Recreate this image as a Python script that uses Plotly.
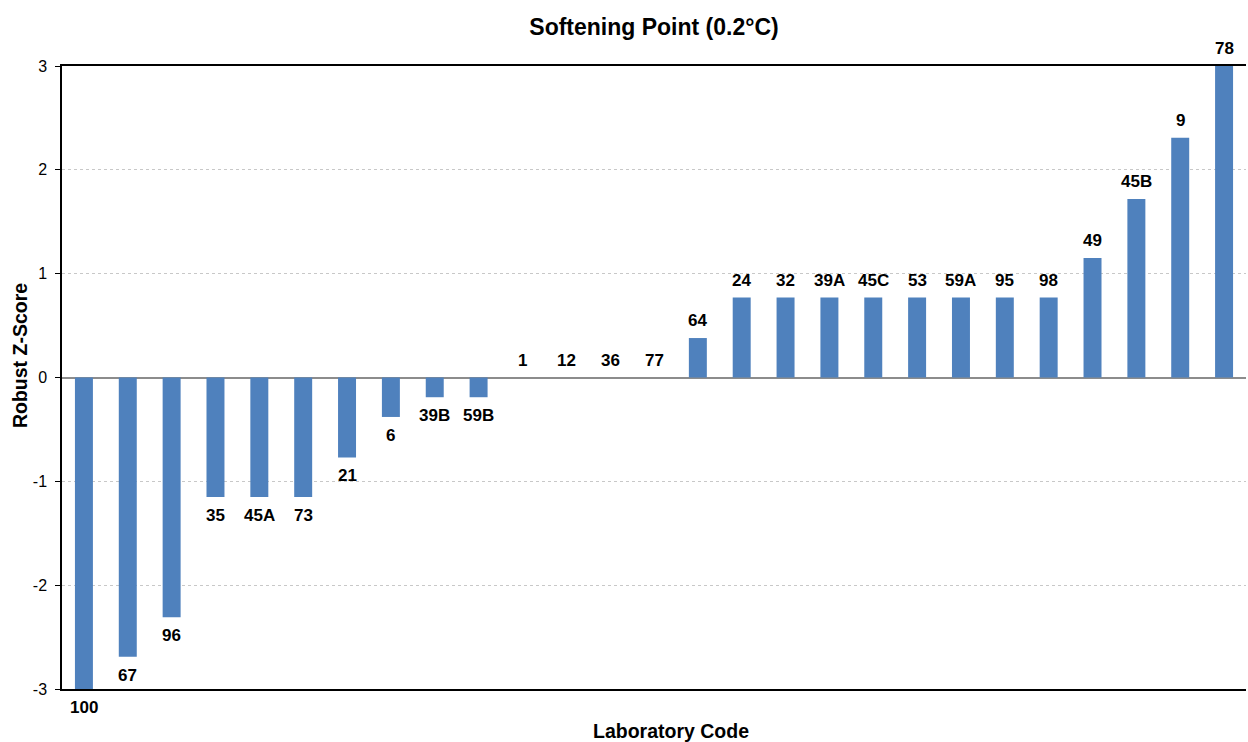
import plotly.graph_objects as go

labs = ["100", "67", "96", "35", "45A", "73", "21", "6", "39B", "59B",
        "1", "12", "36", "77", "64", "24", "32", "39A", "45C", "53",
        "59A", "95", "98", "49", "45B", "9", "78"]
zscores = [-3.0, -2.69, -2.31, -1.15, -1.15, -1.15, -0.77, -0.38, -0.19, -0.19,
           0.0, 0.0, 0.0, 0.0, 0.38, 0.77, 0.77, 0.77, 0.77, 0.77,
           0.77, 0.77, 0.77, 1.15, 1.72, 2.31, 3.0]
ytick_vals = [-3, -2, -1, 0, 1, 2, 3]
ytick_text = ["-3", "-2", "-1", "0", "1", "2", "3"]

font_fam = "Liberation Sans, Arial, sans-serif"

fig = go.Figure()
fig.add_trace(go.Bar(x=list(range(len(labs))), y=zscores, width=0.41,
                     marker=dict(color="#4F81BD", line=dict(width=0)),
                     hoverinfo="skip"))

for i, (lab, v) in enumerate(zip(labs, zscores)):
    neg = v < 0
    fig.add_annotation(x=i, y=v, text="<b>%s</b>" % lab, showarrow=False,
                       xref="x", yref="y",
                       yanchor="top" if neg else "bottom",
                       yshift=-7 if neg else 6,
                       font=dict(family=font_fam, size=17, color="#000"))

# axis titles
fig.add_annotation(text="<b>Laboratory Code</b>", xref="paper", yref="paper",
                   x=0.514, y=-0.0674, xanchor="center", yanchor="middle",
                   showarrow=False,
                   font=dict(family=font_fam, size=19.5, color="#000"))
fig.add_annotation(text="<b>Robust Z-Score</b>", xref="paper", yref="paper",
                   x=-0.0355, y=0.536, xanchor="center", yanchor="middle",
                   textangle=-90, showarrow=False,
                   font=dict(family=font_fam, size=19.5, color="#000"))

fig.update_layout(
    width=1248, height=742,
    margin=dict(l=62, r=2, t=66, b=53),
    paper_bgcolor="white", plot_bgcolor="white",
    showlegend=False,
    title=dict(text="<b>Softening Point (0.2°C)</b>", x=0.5, xref="paper",
               xanchor="center", y=0.964, yanchor="middle",
               font=dict(family=font_fam, size=23, color="#000")),
    xaxis=dict(range=[-0.5, len(labs) - 0.5], showticklabels=False, ticks="",
               showgrid=False, zeroline=False, showline=True, mirror=True,
               linecolor="#000", linewidth=1.5),
    yaxis=dict(range=[-3, 3], tickvals=ytick_vals, ticktext=ytick_text,
               ticks="outside", ticklen=5, tickcolor="#000",
               ticklabelstandoff=5,
               showline=True, linecolor="#000", linewidth=1.5,
               showgrid=True, gridcolor="#c8c8c8", griddash="dot", gridwidth=1,
               zeroline=True, zerolinecolor="#8c8c8c", zerolinewidth=1.5,
               tickfont=dict(family=font_fam, size=16, color="#000")),
)

fig.write_html("out.html", config={"displayModeBar": False},
               post_script="document.body.style.margin='0';document.body.style.overflow='hidden';")
